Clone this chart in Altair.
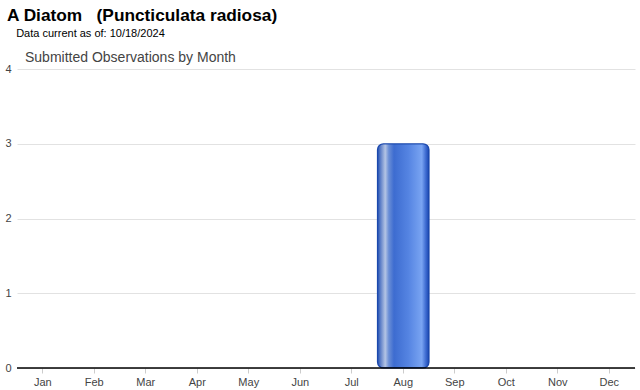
import altair as alt
import pandas as pd

months = ["Jan", "Feb", "Mar", "Apr", "May", "Jun", "Jul", "Aug", "Sep", "Oct", "Nov", "Dec"]
counts = [0, 0, 0, 0, 0, 0, 0, 3, 0, 0, 0, 0]
chart_title = "A Diatom\u00a0\u00a0\u00a0(Puncticulata radiosa)"
chart_subtitle = "\u200b\u00a0\u00a0\u00a0Data current as of: 10/18/2024"
panel_title = ["Submitted Observations by Month"]

df = pd.DataFrame({"month": months, "count": counts})
tdf = pd.DataFrame({"t": panel_title})

grad = alt.LinearGradient(
    gradient="linear", x1=0, x2=1, y1=0, y2=0,
    stops=[
        alt.GradientStop(color="#2452b4", offset=0.0),
        alt.GradientStop(color="#5f80c8", offset=0.06),
        alt.GradientStop(color="#b4c4e4", offset=0.15),
        alt.GradientStop(color="#6a8ed6", offset=0.22),
        alt.GradientStop(color="#3d6cd0", offset=0.32),
        alt.GradientStop(color="#5584e2", offset=0.6),
        alt.GradientStop(color="#79a4f2", offset=0.86),
        alt.GradientStop(color="#3c6ad0", offset=0.94),
        alt.GradientStop(color="#1a46ae", offset=1.0),
    ],
)

x = alt.X("month:N", sort=months, title=None,
          scale=alt.Scale(paddingInner=0, paddingOuter=0),
          axis=alt.Axis(labelAngle=0, labelFont="Arial", labelFontSize=11,
                        labelColor="#444444", labelPadding=3, tickColor="#cccccc",
                        tickSize=5, domain=False, grid=False))
y = alt.Y("count:Q", title=None,
          scale=alt.Scale(domain=[0, 4], nice=False),
          axis=alt.Axis(values=[0, 1, 2, 3, 4], format="d", labelFont="Arial",
                        labelFontSize=11, labelColor="#444444", ticks=False,
                        domain=False, gridColor="#e2e2e2", labelPadding=6))

bars = alt.Chart(df).transform_filter("datum.count > 0").mark_bar(
    color=grad, cornerRadius=6, stroke="#1b48ad", strokeWidth=1.2
).encode(x=x, y=y)

base = alt.Chart(df).mark_bar(opacity=0).encode(x=x, y=y)

baseline = alt.Chart(df).transform_filter("datum.month == 'Jan'").mark_rule(
    color="#000000", strokeWidth=1.6
).encode(y=alt.datum(0), x=alt.value(0), x2=alt.value(618))

subtitle2 = alt.Chart(tdf).mark_text(
    font="Arial", fontSize=14, color="#444444", align="left", baseline="middle"
).encode(x=alt.value(8), y=alt.value(-11), text="t:N")

chart = alt.layer(base, bars, baseline, subtitle2).properties(
    width=618, height=299,
    title=alt.Title(
        text=chart_title,
        subtitle=chart_subtitle,
        anchor="start", frame="group", font="Arial", fontSize=17.3,
        fontWeight="bold", color="#000000",
        subtitleFont="Arial", subtitleFontSize=11, subtitleColor="#000000",
        subtitlePadding=4, offset=12, dx=-10,
    ),
    autosize="none",
    padding={"left": 17, "top": 69, "right": 5, "bottom": 22},
).configure_view(stroke=None)

chart.save("out.html", embed_options={"renderer": "svg", "actions": False})
